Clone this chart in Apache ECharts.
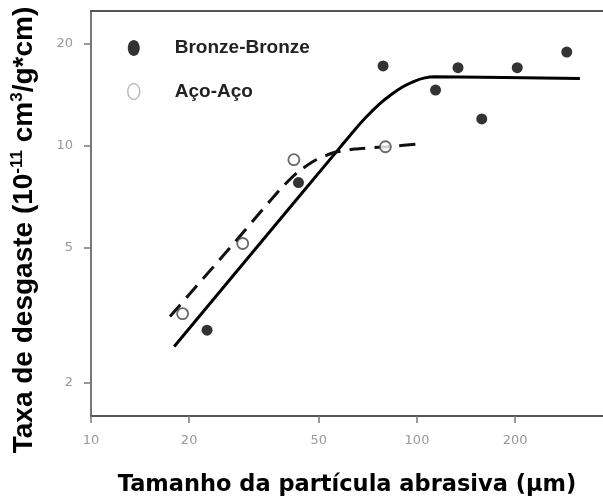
<!DOCTYPE html>
<html><head><meta charset="utf-8">
<script src="https://cdn.jsdelivr.net/npm/echarts@6/dist/echarts.min.js"></script>
<style>html,body{margin:0;padding:0;background:#fff}#c{width:603px;height:502px}</style>
</head><body><div id="c"></div>
<script>
// tick labels
const xTicks = [10, 20, 50, 100, 200];
const yTicks = [2, 5, 10, 20];
// Bronze-Bronze measured points
const bronzeX = [22.7, 43.3, 78.7, 114, 133.6, 158, 203, 288];
const bronzeY = [2.85, 7.78, 17.2, 14.6, 17.0, 12.0, 17.0, 18.9];
// Aço-Aço measured points
const acoX = [19.1, 29.2, 41.9, 80];
const acoY = [3.19, 5.14, 9.09, 9.93];
// fitted curves
const bronzeFitX = [18.0, 32.3, 58.0, 63.9, 70.1, 76.5, 83.4, 90.5, 98.0, 105.7, 113.6, 316];
const bronzeFitY = [2.55, 5.02, 9.87, 11.04, 12.19, 13.24, 14.16, 14.93, 15.50, 15.86, 15.98, 15.8];
const acoFitX = [17.47, 25.76, 38.0, 42.97, 48.9, 56.0, 64.5, 80.9, 103.6];
const acoFitY = [3.13, 4.80, 7.42, 8.34, 9.07, 9.56, 9.77, 9.93, 10.14];

const zip = (a, b) => a.map((v, i) => [v, b[i]]);
const ELL = 'path://M0,50 C0,22.4 22.4,0 50,0 C77.6,0 100,22.4 100,50 C100,77.6 77.6,100 50,100 C22.4,100 0,77.6 0,50 Z';

const chart = echarts.init(document.getElementById('c'), null, {renderer: 'canvas'});
chart.setOption({
  animation: false,
  backgroundColor: '#fff',
  grid: {left: 91, right: 0, top: 11, bottom: 85},
  legend: {
    orient: 'vertical', left: 127, top: 38.5, padding: 0,
    itemWidth: 12, itemHeight: 16, itemGap: 24.5, symbolKeepAspect: false,
    selectedMode: false,
    data: [
      {name: 'Bronze-Bronze', icon: ELL, itemStyle: {color: '#000', borderWidth: 0}},
      {name: 'Aço-Aço', icon: ELL, itemStyle: {color: '#fff', borderColor: '#aaa', borderWidth: 1.5}}
    ],
    textStyle: {fontFamily: 'Liberation Sans', fontWeight: 'bold', fontSize: 19, color: '#222', padding: [0, 0, 0, 30]}
  },
  xAxis: [{
    type: 'log', logBase: 10, min: 10, max: 372,
    name: 'Tamanho da partícula abrasiva (μm)', nameLocation: 'middle', nameGap: 58,
    nameTextStyle: {fontFamily: 'DejaVu Sans', fontWeight: 'bold', fontSize: 22.5, color: '#000'},
    axisLine: {show: true, onZero: false, lineStyle: {color: '#555', width: 2}},
    axisTick: {show: true, length: 7, customValues: xTicks, lineStyle: {color: '#777', width: 1.5}},
    axisLabel: {customValues: xTicks, margin: 18, color: '#999', fontSize: 13, fontFamily: 'DejaVu Sans'},
    splitLine: {show: false}
  }, {
    type: 'log', logBase: 10, min: 10, max: 372, position: 'top',
    axisLine: {show: true, onZero: false, lineStyle: {color: '#555', width: 2}},
    axisTick: {show: false}, axisLabel: {show: false}, splitLine: {show: false}
  }],
  yAxis: {
    type: 'log', logBase: 10, min: 1.59, max: 25,
    axisLine: {show: true, onZero: false, lineStyle: {color: '#777', width: 2}},
    axisTick: {show: true, length: 7, customValues: yTicks, lineStyle: {color: '#777', width: 1.5}},
    axisLabel: {customValues: yTicks, margin: 18, color: '#999', fontSize: 13, fontFamily: 'DejaVu Sans'},
    splitLine: {show: false}
  },
  graphic: [{
    type: 'text', x: 24, y: 230, rotation: Math.PI / 2,
    style: {
      text: '{a|Taxa de desgaste (10}{s|-11}{a| cm}{s|3}{a|/g*cm)}',
      align: 'center', verticalAlign: 'middle',
      rich: {
        a: {fontFamily: 'Liberation Sans', fontWeight: 'bold', fontSize: 28, fill: '#000', lineHeight: 30},
        s: {fontFamily: 'Liberation Sans', fontWeight: 'bold', fontSize: 17, fill: '#000', verticalAlign: 'top', lineHeight: 30}
      }
    }
  }],
  series: [
    {type: 'line', name: 'fitBronze', data: zip(bronzeFitX, bronzeFitY), smooth: 0.2, showSymbol: false,
     lineStyle: {color: '#000', width: 3}, z: 2},
    {type: 'line', name: 'fitAco', data: zip(acoFitX, acoFitY), smooth: 0.2, showSymbol: false,
     lineStyle: {color: '#111', width: 3, type: [16, 9]}, z: 2},
    {type: 'scatter', name: 'Bronze-Bronze', data: zip(bronzeX, bronzeY), symbol: 'circle', symbolSize: 11,
     itemStyle: {color: '#000'}, z: 3},
    {type: 'scatter', name: 'Aço-Aço', data: zip(acoX, acoY), symbol: 'circle', symbolSize: 11,
     itemStyle: {color: '#fff', borderColor: '#444', borderWidth: 1.8}, z: 4}
  ]
});
</script>
</body></html>
